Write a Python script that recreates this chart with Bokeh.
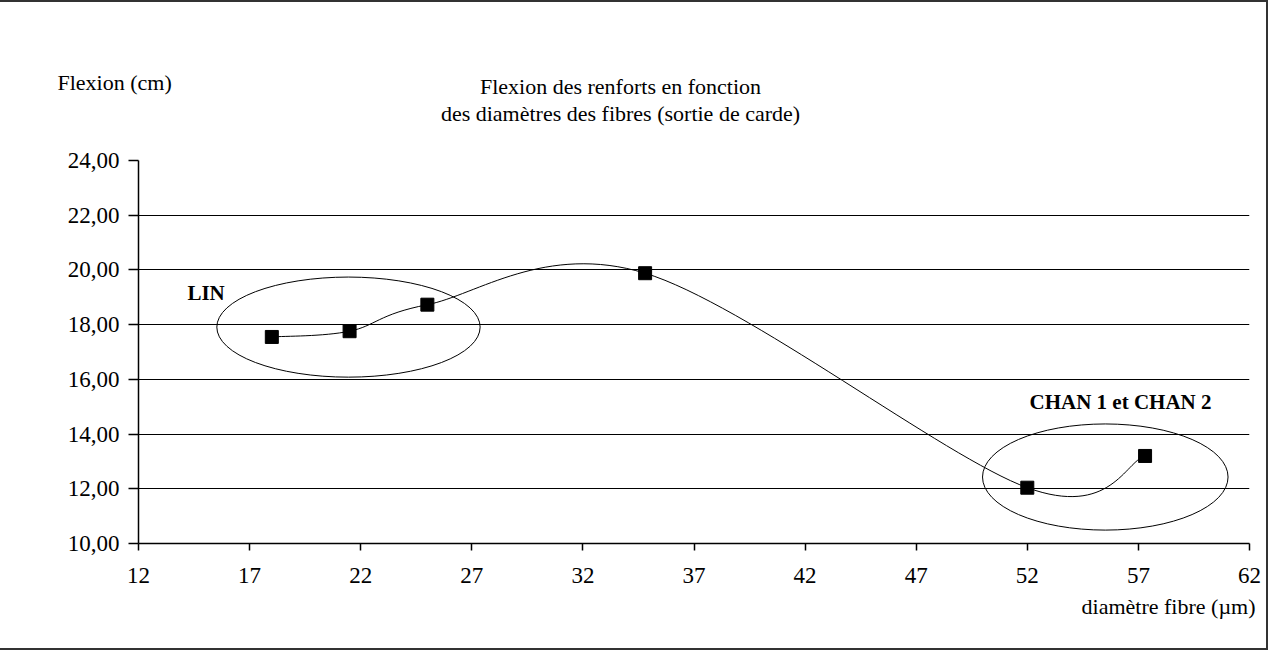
import numpy as np
from bokeh.plotting import figure
from bokeh.layouts import column
from bokeh.models import Range1d, FixedTicker
from bokeh.core.properties import value
from bokeh.embed import file_html
from bokeh.resources import INLINE

# ---- data ----
diametre = [18.0, 21.5, 25.0, 34.8, 52.0, 57.3]
flexion = [17.55, 17.76, 18.73, 19.88, 12.04, 13.20]
x_ticks = [12, 17, 22, 27, 32, 37, 42, 47, 52, 57, 62]
y_ticks = [10, 12, 14, 16, 18, 20, 22, 24]
y_tick_labels = ["10,00", "12,00", "14,00", "16,00", "18,00", "20,00", "22,00", "24,00"]
grid_values = [12, 14, 16, 18, 20, 22]

# groups circled on the chart (centre x, centre y, width, height in data units)
group_names = ["LIN", "CHAN 1 et CHAN 2"]
group_cx = [21.45, 55.51]
group_cy = [17.91, 12.43]
group_w = [11.85, 11.05]
group_h = [3.66, 3.88]

title_lines = ["Flexion des renforts en fonction",
               "des diamètres des fibres (sortie de carde)"]
y_title = "Flexion (cm)"
x_title = "diamètre fibre (µm)"

FONT = "Liberation Serif"
W = 1266
TOP_H, MAIN_H, BOT_H = 138, 453, 55


def no_align(f):
    try:
        f.frame_align = False
    except Exception:
        pass


def text_strip(h):
    f = figure(width=W, height=h, output_backend="svg", toolbar_location=None,
               x_range=Range1d(0, W), y_range=Range1d(h, 0),
               x_axis_location=None, y_axis_location=None,
               min_border=0, min_border_left=0, min_border_right=0,
               min_border_top=0, min_border_bottom=0)
    f.grid.visible = False
    f.outline_line_color = None
    f.background_fill_color = "white"
    f.border_fill_color = "white"
    no_align(f)
    return f


def txt(fig, x, y, text, align="left", bold=False, size="22px"):
    fig.text(x=[x], y=[y], text=[text], text_font=value(FONT),
             text_font_size=value(size), text_align=align,
             text_baseline="alphabetic", text_color="black",
             text_font_style="bold" if bold else "normal")


# ---- top strip: titles ----
top = text_strip(TOP_H)
txt(top, 57, 80, y_title)
txt(top, 620, 84, title_lines[0], align="center")
txt(top, 620, 111, title_lines[1], align="center")

# ---- main chart ----
p = figure(width=W, height=MAIN_H, output_backend="svg", toolbar_location=None,
           x_range=Range1d(12, 62), y_range=Range1d(10, 24),
           min_border_left=138, min_border_right=17,
           min_border_top=20, min_border_bottom=50)
no_align(p)
p.outline_line_color = None
p.background_fill_color = "white"
p.border_fill_color = "white"

for ax in (p.xaxis[0], p.yaxis[0]):
    ax.axis_line_color = "black"
    ax.axis_line_width = 1.5
    ax.major_tick_line_color = "black"
    ax.major_tick_line_width = 1.5
    ax.minor_tick_line_color = None
    ax.major_tick_in = 0
    ax.major_label_text_font = FONT
    ax.major_label_text_font_size = "23px"
    ax.major_label_text_color = "black"

p.xaxis.ticker = FixedTicker(ticks=x_ticks)
p.xaxis.major_tick_out = 7
p.xaxis.major_label_standoff = 17
p.yaxis.ticker = FixedTicker(ticks=y_ticks)
p.yaxis.major_tick_out = 10
p.yaxis.major_label_standoff = 9
p.yaxis.major_label_overrides = {t: s for t, s in zip(y_ticks, y_tick_labels)}

p.xgrid.visible = False
p.ygrid.ticker = FixedTicker(ticks=grid_values)
p.ygrid.grid_line_color = "black"
p.ygrid.grid_line_width = 1.2

# smooth curve (Catmull-Rom -> Bezier, like a spreadsheet "smoothed line")
xs = np.array(diametre)
ys = np.array(flexion)
xp = np.concatenate([[xs[0]], xs, [xs[-1]]])
yp = np.concatenate([[ys[0]], ys, [ys[-1]]])
n = len(xs)
prev_x, cur_x, nxt_x, nxt2_x = xp[0:n - 1], xp[1:n], xp[2:n + 1], xp[3:n + 2]
prev_y, cur_y, nxt_y, nxt2_y = yp[0:n - 1], yp[1:n], yp[2:n + 1], yp[3:n + 2]
p.bezier(x0=cur_x, y0=cur_y, x1=nxt_x, y1=nxt_y,
         cx0=cur_x + (nxt_x - prev_x) / 6, cy0=cur_y + (nxt_y - prev_y) / 6,
         cx1=nxt_x - (nxt2_x - cur_x) / 6, cy1=nxt_y - (nxt2_y - cur_y) / 6,
         line_color="black", line_width=1)

p.scatter(diametre, flexion, marker="square", size=13,
          fill_color="black", line_color="black")

p.ellipse(x=group_cx, y=group_cy, width=group_w, height=group_h,
          fill_color=None, line_color="black", line_width=1)

txt(p, 14.2, 19.15, group_names[0], bold=True, size="21px")
txt(p, 52.1, 15.18, group_names[1], bold=True, size="21px")

# ---- bottom strip: x axis title ----
bot = text_strip(BOT_H)
txt(bot, 1255, 13, x_title, align="right")

layout = column(top, p, bot, spacing=0,
                styles={"border": "2px solid #333333", "background-color": "white",
                        "margin-left": "-2px"})

open("out.html", "w").write(file_html(layout, INLINE))
